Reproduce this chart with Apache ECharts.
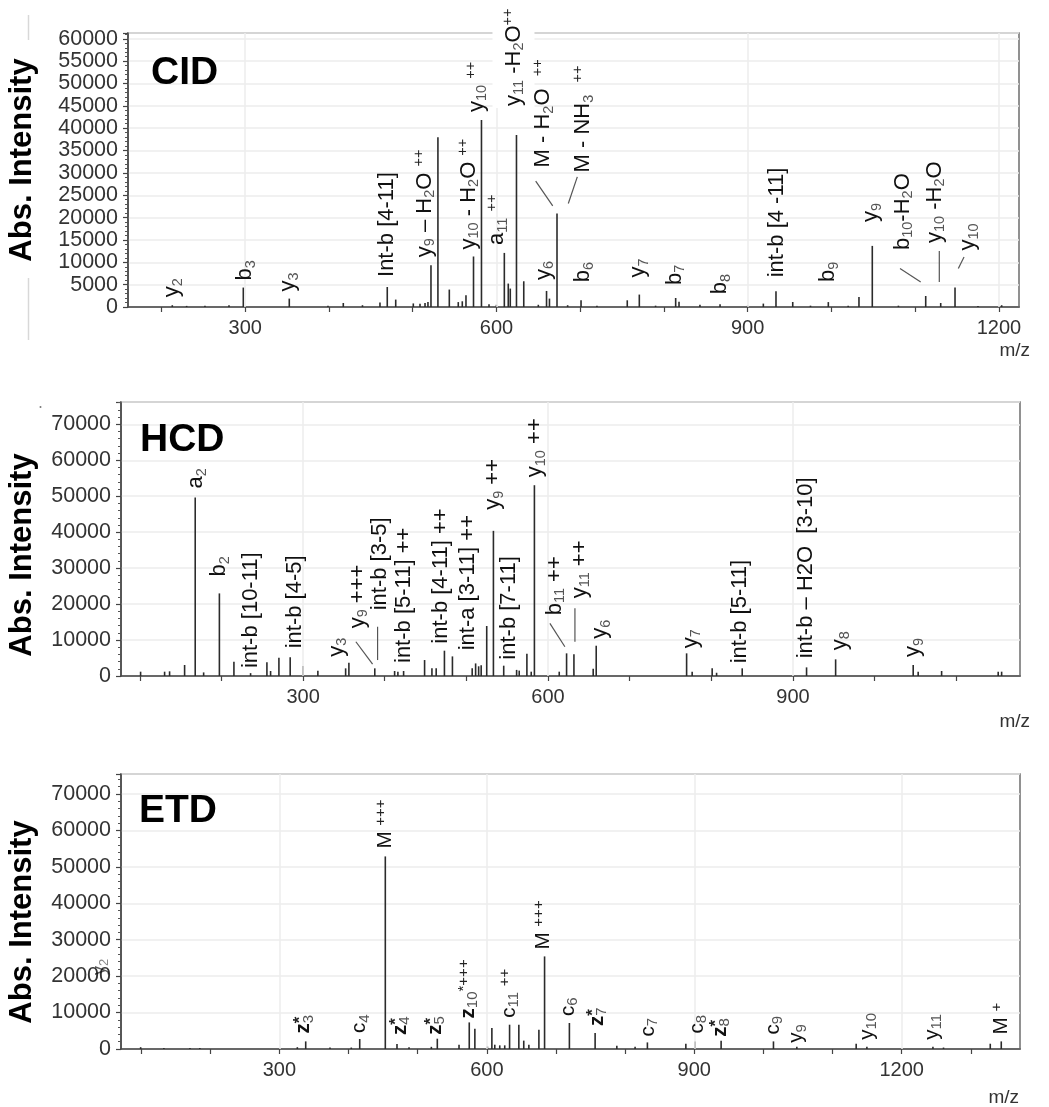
<!DOCTYPE html>
<html>
<head>
<meta charset="utf-8">
<script src="https://cdn.jsdelivr.net/npm/echarts@6/dist/echarts.min.js"></script>
<style>
html, body { margin: 0; padding: 0; background: #fff; }
#chart { width: 1049px; height: 1107px; }
</style>
</head>
<body>
<div id="chart"></div>
<script>
// ---------- CID spectrum ----------
const cidMz = [212.9, 230, 251.9, 280.6, 297.7, 352.6, 398.8, 417.1, 440, 460.9, 469.6, 479.7,
  500.7, 508.7, 514.7, 518.2, 521.8, 530.1, 543.7, 554.4, 559.2, 563.6, 572.6, 582.1, 591.1, 600,
  609.4, 614.1, 616.5, 623.9, 632.6, 650, 659.8, 663.3, 672.3, 685, 701, 720, 756.2, 770.6, 790,
  814, 818, 843, 867, 900, 918.7, 933.8, 953.8, 975, 996.3, 1020, 1032.9, 1048.8, 1080, 1112.6,
  1130.5, 1147.6, 1175, 1203.3];
const cidIntensity = [400, 250, 300, 400, 4350, 1880, 300, 900, 400, 1000, 4480, 1660,
  800, 700, 900, 1100, 9340, 37960, 3900, 1100, 1280, 2620, 11300, 41840, 600, 500,
  12100, 5240, 4120, 38480, 5760, 500, 3590, 1880, 20930, 400, 1500, 300, 1500, 2780, 300,
  2020, 1200, 500, 600, 300, 760, 3520, 1120, 300, 1100, 300, 2240, 13670, 300, 2460,
  900, 4350, 200, 400];
const cidTicks = [200, 300, 400, 500, 600, 700, 800, 900, 1000, 1100, 1200];
const cidTickLabels = [300, 600, 900, 1200];

// ---------- HCD spectrum ----------
const hcdMz = [101, 130.4, 136.5, 154.9, 167.9, 178.2, 197.5, 215.3, 235.7, 255.7, 260.2, 270.4,
  284.2, 299.8, 318.1, 352.1, 356.1, 387.8, 412.1, 416.1, 423.1, 448.8, 457.8, 463, 473.1, 482.9,
  507.1, 511.3, 515, 518.1, 524.9, 533.1, 545.7, 561.5, 564.7, 574.1, 579.4, 583.3, 613.7, 622.7,
  631.7, 655.3, 659, 769.7, 776.5, 801, 806.4, 837.8, 916.6, 952.2, 1047.2, 1053.3, 1082,
  1151.3, 1155.5];
const hcdIntensity = [1200, 1200, 1300, 3060, 49640, 1000, 22970, 3980, 800, 3800, 1390, 5090,
  5190, 2780, 1470, 2130, 3700, 2130, 1390, 1200, 1390, 4440, 2130, 2130, 7040, 5450,
  2130, 3500, 2700, 3000, 13900, 40370, 2870, 1700, 1500, 6200, 1200, 53060, 1200, 6300,
  6020, 2000, 8420, 6300, 1200, 2130, 900, 2130, 2400, 4630, 3060, 1200, 1390,
  1200, 1200];
const hcdTicks = [100, 200, 300, 400, 500, 600, 700, 800, 900, 1000, 1100];
const hcdTickLabels = [300, 600, 900];

// ---------- ETD spectrum ----------
const etdMz = [99.4, 133, 170.7, 185, 326, 338.1, 373.2, 404, 416.2, 453.2, 470.1, 487.5, 519.8,
  528.4, 559.8, 574.6, 582.7, 600.8, 607.3, 611.5, 618.7, 625.9, 632.9, 646.3, 653.4, 660.8,
  675.3, 683.5, 719.4, 756.6, 788, 814.4, 832.2, 887.8, 901.2, 938.8, 1014.5, 1048.3, 1134.1,
  1149.6, 1245.1, 1260.4, 1328, 1343.9];
const etdIntensity = [500, 300, 300, 300, 500, 2090, 400, 400, 2750, 52870, 1370, 500, 600,
  2830, 1180, 7300, 5570, 700, 5760, 1180, 1000, 1000, 6670, 6670, 2300, 1180,
  5300, 25420, 7140, 4390, 900, 600, 1810, 1450, 2090, 2280, 2090, 600, 1450,
  600, 600, 400, 1450, 2090];
const etdTicks = [100, 200, 300, 400, 500, 600, 700, 800, 900, 1000, 1100, 1200, 1300];
const etdTickLabels = [300, 600, 900, 1200];

// ---------- fragment annotations (text placed relative to the peak top, in px) ----------
const cidAnnotations = [
  { mz: 212.9, text: '{m|y}{s|2}', dx: 0, dy: -8 },
  { mz: 297.7, text: '{m|b}{s|3}', dx: 2, dy: -7 },
  { mz: 352.6, text: '{m|y}{s|3}', dx: -1, dy: -7 },
  { mz: 469.6, text: '{m|Int-b [4-11]}', dx: 0, dy: -10 },
  { mz: 521.8, text: '{m|y}{s|9}{m| – H}{s|2}{m|O }{p|++}', dx: -6, dy: -8 },
  { mz: 572.6, text: '{m|y}{s|10}{m| - H}{s|2}{m|O }{p|++}', dx: -5, dy: -7 },
  { mz: 582.1, text: '{m|y}{s|10}{m| }{p|++}', dx: -5, dy: -8 },
  { mz: 609.4, text: '{m|a}{s|11}{m| }{p|++}', dx: -7, dy: -8 },
  { mz: 623.9, text: '{m|y}{s|11}{m| -H}{s|2}{m|O}{p|++}', dx: -3, dy: -27, bg: true },
  { mz: 672.3, text: '{m|M - H}{s|2}{m|O  }{p|++}', dx: -14, dy: -46, line: [-21.3, -32.3, -4.3, -7.6] },
  { mz: 672.3, text: '{m|M - NH}{s|3}{m|  }{p|++}', dx: 26, dy: -41, line: [20.3, -36.6, 11.3, -10] },
  { mz: 659.8, text: '{m|y}{s|6}', dx: -3, dy: -11 },
  { mz: 701, text: '{m|b}{s|6}', dx: 2, dy: -18 },
  { mz: 770.6, text: '{m|y}{s|7}', dx: -1, dy: -17 },
  { mz: 814, text: '{m|b}{s|7}', dx: -1, dy: -13 },
  { mz: 867, text: '{m|b}{s|8}', dx: 0, dy: -10 },
  { mz: 933.8, text: '{m|int-b [4 -11]}', dx: 1, dy: -14 },
  { mz: 996.3, text: '{m|b}{s|9}', dx: 0, dy: -20 },
  { mz: 1048.8, text: '{m|y}{s|9}', dx: -1, dy: -24 },
  { mz: 1112.6, text: '{m|b}{s|10}{m|-H}{s|2}{m|O}', dx: -23, dy: -46, line: [-25.7, -27.4, -5, -14] },
  { mz: 1130.5, text: '{m|y}{s|10}{m| -H}{s|2}{m|O}', dx: -6, dy: -60, line: [-1.4, -52, -1.4, -21] },
  { mz: 1147.6, text: '{m|y}{s|10}', dx: 13, dy: -37, line: [9, -30.6, 3.3, -19] }
];

const hcdAnnotations = [
  { mz: 167.9, text: '{m|a}{s|2}', dx: 1, dy: -9 },
  { mz: 197.5, text: '{m|b}{s|2}', dx: 0, dy: -17 },
  { mz: 235.7, text: '{m|int-b [10-11]}', dx: 0, dy: -5 },
  { mz: 284.2, text: '{m|int-b [4-5]}', dx: 5, dy: -9 },
  { mz: 356.1, text: '{m|y}{s|3}', dx: -12, dy: -6 },
  { mz: 387.8, text: '{m|y}{s|9}{m| +++}', dx: -17, dy: -40, line: [-18.9, -26.6, -2.2, -4.3] },
  { mz: 387.8, text: '{m|int-b [3-5]}', dx: 5, dy: -58, line: [2.8, -41.6, 2.8, -8.3] },
  { mz: 423.1, text: '{m|int-b [5-11] ++}', dx: 0, dy: -8 },
  { mz: 473.1, text: '{m|int-b [4-11] ++}', dx: -3, dy: -7 },
  { mz: 507.1, text: '{m|int-a [3-11] ++}', dx: -4, dy: -18 },
  { mz: 533.1, text: '{m|y}{s|9}{m| ++}', dx: 0, dy: -21 },
  { mz: 545.7, text: '{m|int-b [7-11]}', dx: 5, dy: -6 },
  { mz: 583.3, text: '{m|y}{s|10}{m| ++}', dx: 1, dy: -8 },
  { mz: 622.7, text: '{m|b}{s|11}{m| ++}', dx: -12, dy: -38, line: [-16.7, -30, -1.7, -6.6] },
  { mz: 631.7, text: '{m|y}{s|11}{m| ++}', dx: 6, dy: -56, line: [1, -46, 1, -12.6] },
  { mz: 659, text: '{m|y}{s|6}', dx: 4, dy: -7 },
  { mz: 769.7, text: '{m|y}{s|7}', dx: 4, dy: -5 },
  { mz: 837.8, text: '{m|int-b [5-11]}', dx: -2, dy: -5 },
  { mz: 916.6, text: '{m|int-b – H2O  [3-10]}', dx: -1, dy: -9 },
  { mz: 952.2, text: '{m|y}{s|8}', dx: 4, dy: -9 },
  { mz: 1047.2, text: '{m|y}{s|9}', dx: 0, dy: -8 }
];

const etdAnnotations = [
  { mz: 338.1, text: '{z|z}{q|*}{s|3}', dx: -2, dy: -8 },
  { mz: 416.2, text: '{m|c}{s|4}', dx: 0, dy: -6 },
  { mz: 453.2, text: '{m|M }{p|+++}', dx: 0, dy: -8 },
  { mz: 470.1, text: '{z|z}{q|*}{s|4}', dx: 3, dy: -9 },
  { mz: 528.4, text: '{z|z}{q|*}{s|5}', dx: -2, dy: -4 },
  { mz: 574.6, text: '{z|z}{s|10}{p|*+++}', dx: -1, dy: -4 },
  { mz: 632.9, text: '{m|c}{s|11}{m| }{p|++}', dx: 0, dy: -7 },
  { mz: 683.5, text: '{m|M }{p|+++}', dx: -1, dy: -7 },
  { mz: 719.4, text: '{m|c}{s|6}', dx: -1, dy: -7 },
  { mz: 756.6, text: '{z|z}{q|*}{s|7}', dx: 2, dy: -7 },
  { mz: 832.2, text: '{m|c}{s|7}', dx: 1, dy: -6 },
  { mz: 901.2, text: '{m|c}{s|8}', dx: 2, dy: -8 },
  { mz: 938.8, text: '{z|z}{q|*}{s|8}', dx: -1, dy: -4 },
  { mz: 1014.5, text: '{m|c}{s|9}', dx: 0, dy: -7 },
  { mz: 1048.3, text: '{m|y}{s|9}', dx: 0, dy: -4 },
  { mz: 1149.6, text: '{m|y}{s|10}', dx: 0, dy: -7 },
  { mz: 1245.1, text: '{m|y}{s|11}', dx: -1, dy: -7 },
  { mz: 1343.9, text: '{m|M }{p|+}', dx: 0, dy: -7 }
];

// ---------- styling ----------
const FONT = '"Liberation Sans", Arial, Helvetica, sans-serif';
function makeRich(size, subSize) {
  return {
    m: { fontSize: size, lineHeight: size + 4, fontFamily: FONT, fill: '#111', color: '#111' },
    z: { fontSize: size, lineHeight: size + 4, fontFamily: FONT, fontWeight: 'bold', fill: '#111', color: '#111' },
    s: { fontSize: subSize, lineHeight: subSize - 1, fontFamily: FONT, verticalAlign: 'bottom', fill: '#555', color: '#555' },
    p: { fontSize: subSize, lineHeight: subSize - 1, fontFamily: FONT, verticalAlign: 'top', fill: '#222', color: '#222' },
    q: { fontSize: subSize + 2, lineHeight: subSize - 1, fontFamily: FONT, fontWeight: 'bold', verticalAlign: 'top', width: 0, fill: '#222', color: '#222' }
  };
}

const panels = [
  { mz: cidMz, inten: cidIntensity, ann: cidAnnotations,
    grid: { left: 128, top: 33, width: 891, height: 274 },
    xMin: 160, xMax: 1224, yMax: 61300, yStep: 5000,
    ticks: cidTicks, tickLabels: cidTickLabels, rich: makeRich(22, 14.5) },
  { mz: hcdMz, inten: hcdIntensity, ann: hcdAnnotations,
    grid: { left: 121, top: 402, width: 899, height: 274 },
    xMin: 77, xMax: 1178, yMax: 76200, yStep: 10000,
    ticks: hcdTicks, tickLabels: hcdTickLabels, rich: makeRich(22, 14.5) },
  { mz: etdMz, inten: etdIntensity, ann: etdAnnotations,
    grid: { left: 121, top: 774, width: 899, height: 275 },
    xMin: 71, xMax: 1371, yMax: 75500, yStep: 10000,
    ticks: etdTicks, tickLabels: etdTickLabels, rich: makeRich(20.5, 15) }
];

function peakHeight(panel, mz) {
  const i = panel.mz.indexOf(mz);
  return i >= 0 ? panel.inten[i] : 0;
}
const plainNumber = v => String(Math.round(v));

const grids = [], xAxes = [], yAxes = [], series = [];
panels.forEach((pn, idx) => {
  grids.push(Object.assign({ show: true, borderColor: '#6e6e6e', borderWidth: 1.5, backgroundColor: 'transparent' }, pn.grid));
  xAxes.push({
    type: 'value', gridIndex: idx, min: pn.xMin, max: pn.xMax,
    axisLine: { show: true, onZero: false, lineStyle: { color: '#444', width: 1.5 } },
    axisTick: { show: true, length: 5, customValues: pn.ticks, lineStyle: { color: '#444', width: 1.2 } },
    axisLabel: { customValues: pn.tickLabels, margin: 11, fontSize: 20, color: '#333', fontFamily: FONT, formatter: plainNumber },
    splitLine: { show: false }
  });
  yAxes.push({
    type: 'value', gridIndex: idx, min: 0, max: pn.yMax, interval: pn.yStep,
    axisLine: { show: true, lineStyle: { color: '#444', width: 1.5 } },
    axisTick: { show: true, length: 5, lineStyle: { color: '#444', width: 1.2 } },
    minorTick: { show: true, splitNumber: 5, length: 3, lineStyle: { color: '#555', width: 1 } },
    axisLabel: { margin: 10, fontSize: 21.5, color: '#333', fontFamily: FONT, showMaxLabel: false, formatter: plainNumber },
    splitLine: { show: true, lineStyle: { color: '#ececec', width: 1.5 } }
  });
  // vertical grid lines at the labelled m/z values
  series.push({
    type: 'line', xAxisIndex: idx, yAxisIndex: idx, data: [], z: 1, silent: true,
    markLine: {
      silent: true, symbol: ['none', 'none'], label: { show: false },
      lineStyle: { color: '#ececec', width: 1.5, type: 'solid' },
      data: pn.tickLabels.map(v => ({ xAxis: v }))
    }
  });
  // spectrum sticks
  series.push({
    type: 'bar', xAxisIndex: idx, yAxisIndex: idx, z: 2, silent: true,
    barWidth: 1.6, itemStyle: { color: '#2b2b2b' },
    data: pn.mz.map((m, i) => [m, pn.inten[i]])
  });
  // fragment labels with their leader lines
  series.push({
    type: 'custom', xAxisIndex: idx, yAxisIndex: idx, z: 5, silent: true, clip: false,
    data: pn.ann.map(a => [a.mz, peakHeight(pn, a.mz)]),
    renderItem(params, api) {
      const a = pn.ann[params.dataIndex];
      const p = api.coord([api.value(0), api.value(1)]);
      const children = [];
      if (a.line) {
        children.push({
          type: 'line',
          shape: { x1: p[0] + a.line[0], y1: p[1] + a.line[1], x2: p[0] + a.line[2], y2: p[1] + a.line[3] },
          style: { stroke: '#555', lineWidth: 1.2 }
        });
      }
      const style = { text: a.text, rich: pn.rich, align: 'left', verticalAlign: 'middle', fill: '#111' };
      if (a.bg) { style.backgroundColor = '#fff'; style.padding = [8, 2, 8, 2]; }
      children.push({ type: 'text', x: p[0] + a.dx, y: p[1] + a.dy, rotation: Math.PI / 2, style });
      return { type: 'group', children };
    }
  });
});

const titleFont = 'bold 39px ' + FONT;
const yNameFont = 'bold 31px ' + FONT;
const mzFont = '19px ' + FONT;
const graphics = [
  { type: 'line', z: 10, shape: { x1: 28.5, y1: 15, x2: 28.5, y2: 40 }, style: { stroke: '#d8d8d8', lineWidth: 1.5 } },
  { type: 'line', z: 10, shape: { x1: 28.5, y1: 278, x2: 28.5, y2: 340 }, style: { stroke: '#d8d8d8', lineWidth: 1.5 } },
  { type: 'circle', z: 10, shape: { cx: 40.5, cy: 407, r: 1 }, style: { fill: '#777' } },
  { type: 'text', z: 10, x: 151, y: 73, style: { text: 'CID', font: titleFont, fill: '#000', align: 'left', verticalAlign: 'middle' } },
  { type: 'text', z: 10, x: 140, y: 440, style: { text: 'HCD', font: titleFont, fill: '#000', align: 'left', verticalAlign: 'middle' } },
  { type: 'text', z: 10, x: 139, y: 811, style: { text: 'ETD', font: titleFont, fill: '#000', align: 'left', verticalAlign: 'middle' } },
  { type: 'text', z: 10, x: 22.5, y: 160, rotation: Math.PI / 2, style: { text: 'Abs. Intensity', font: yNameFont, fill: '#000', align: 'center', verticalAlign: 'middle' } },
  { type: 'text', z: 10, x: 22.5, y: 555, rotation: Math.PI / 2, style: { text: 'Abs. Intensity', font: yNameFont, fill: '#000', align: 'center', verticalAlign: 'middle' } },
  { type: 'text', z: 10, x: 22.5, y: 922, rotation: Math.PI / 2, style: { text: 'Abs. Intensity', font: yNameFont, fill: '#000', align: 'center', verticalAlign: 'middle' } },
  { type: 'text', z: 10, x: 1030, y: 351, style: { text: 'm/z', font: mzFont, fill: '#333', align: 'right', verticalAlign: 'middle' } },
  { type: 'text', z: 10, x: 1030, y: 722, style: { text: 'm/z', font: mzFont, fill: '#333', align: 'right', verticalAlign: 'middle' } },
  { type: 'text', z: 10, x: 1019, y: 1098, style: { text: 'm/z', font: mzFont, fill: '#333', align: 'right', verticalAlign: 'middle' } },
  { type: 'text', z: 10, x: 100, y: 967, rotation: Math.PI / 2, style: { text: '{m|y}{s|2}', rich: makeRich(18, 13), align: 'center', verticalAlign: 'middle', fill: '#555', opacity: 0.7 } }
];

const chart = echarts.init(document.getElementById('chart'), null, { renderer: 'canvas' });
chart.setOption({
  animation: false,
  backgroundColor: '#fff',
  grid: grids,
  xAxis: xAxes,
  yAxis: yAxes,
  series: series,
  graphic: { elements: graphics }
});
</script>
</body>
</html>
